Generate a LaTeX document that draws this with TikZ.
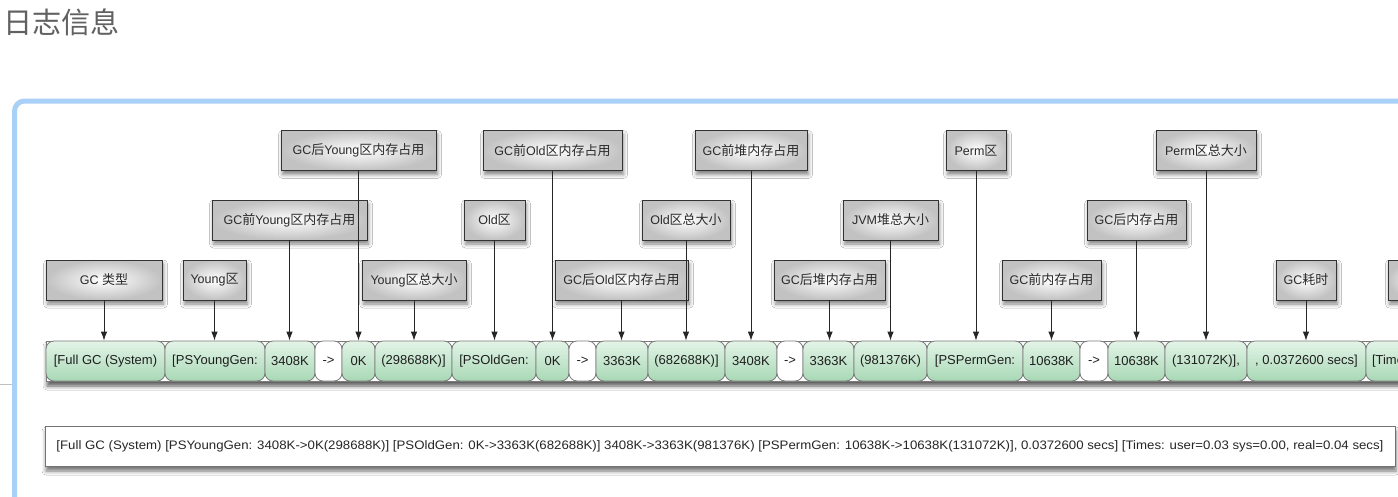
\documentclass[tikz,border=0pt]{standalone}
\usepackage{fontspec}
\setmainfont{Liberation Sans}
\newfontfamily\cjk[Scale=1.04]{Noto Sans CJK SC}
\usetikzlibrary{shadows.blur,arrows.meta}
\newcommand{\zh}[1]{{\cjk #1}}

\definecolor{frameblue}{HTML}{A9D1F7}
\definecolor{segtop}{HTML}{E3F4E7}
\definecolor{segbot}{HTML}{A8D8B5}
\definecolor{segline}{HTML}{7A7A7A}
\definecolor{labtext}{HTML}{2A2A2A}

\tikzset{
  tagbox/.style={draw=black!80, line width=0.9pt, inner sep=0pt, minimum height=40pt,
    shading=radial, inner color=white, outer color=black!24, text=labtext,
    font=\fontsize{12.5}{14}\selectfont,
    blur shadow={shadow xshift=1.5pt, shadow yshift=-4pt, shadow blur radius=4pt, shadow opacity=50}},
  segbase/.style={draw=segline, line width=0.8pt, rounded corners=8pt, inner sep=0pt,
    minimum height=40pt, text=black!88, font=\fontsize{13}{15}\selectfont},
  seg/.style={segbase, top color=segtop, bottom color=segbot},
  arrowseg/.style={segbase, fill=white},
  pointer/.style={draw=black!85, line width=0.9pt, -{Latex[length=9pt,width=6.5pt]}},
}

\begin{document}
\begin{tikzpicture}[x=1pt, y=-1pt]
\useasboundingbox (0,0) rectangle (1398,496);
\fill[white] (0,0) rectangle (1398,496);
\begin{scope}
\clip (0,0) rectangle (1398,496);

% heading
\node[anchor=west, inner sep=0pt, text=black!62, font=\cjk\fontsize{28}{30}\selectfont] (title) at (3,22) {日志信息};

% page rule and panel frame
\draw[black!25, line width=0.8pt] (0,384) -- (12,384);
\draw[frameblue, line width=5pt, rounded corners=10pt] (14.5,520) -- (14.5,101) -- (1500,101);

% label boxes, top row
\node[tagbox, minimum width=155pt] (postyoung) at (358.5,150.5) {GC\zh{后}Young\zh{区内存占用}};
\node[tagbox, minimum width=139pt] (preold)    at (552.5,150.5) {GC\zh{前}Old\zh{区内存占用}};
\node[tagbox, minimum width=112pt] (preheap)   at (751,150.5)   {GC\zh{前堆内存占用}};
\node[tagbox, minimum width=60pt]  (perm)      at (976,150.5)   {Perm\zh{区}};
\node[tagbox, minimum width=100pt] (permtot)   at (1206,150.5)  {Perm\zh{区总大小}};

% label boxes, middle row
\node[tagbox, minimum width=155pt] (preyoung)  at (289.5,220)   {GC\zh{前}Young\zh{区内存占用}};
\node[tagbox, minimum width=61pt]  (old)       at (494.5,220)   {Old\zh{区}};
\node[tagbox, minimum width=88pt]  (oldtot)    at (686,220)     {Old\zh{区总大小}};
\node[tagbox, minimum width=95pt]  (heaptot)   at (890.5,220)   {JVM\zh{堆总大小}};
\node[tagbox, minimum width=99pt]  (postmem)   at (1136.5,220)  {GC\zh{后内存占用}};

% label boxes, bottom row
\node[tagbox, minimum width=116pt] (gctype)    at (104,280)     {GC \zh{类型}};
\node[tagbox, minimum width=63pt]  (young)     at (214.5,280)   {Young\zh{区}};
\node[tagbox, minimum width=104pt] (youngtot)  at (414,280)     {Young\zh{区总大小}};
\node[tagbox, minimum width=133pt] (postold)   at (621.5,280)   {GC\zh{后}Old\zh{区内存占用}};
\node[tagbox, minimum width=111pt] (postheap)  at (829.5,280)   {GC\zh{后堆内存占用}};
\node[tagbox, minimum width=99pt]  (premem)    at (1051.5,280)  {GC\zh{前内存占用}};
\node[tagbox, minimum width=60pt]  (gctime)    at (1306,280)    {GC\zh{耗时}};
\node[tagbox, minimum width=62pt]  (nexttag)   at (1419,280)    {};

% log line split into fields
\node[draw=segline, line width=0.8pt, fill=white, minimum width=1420pt, minimum height=40pt, inner sep=0pt,
  blur shadow={shadow xshift=1pt, shadow yshift=-5pt, shadow blur radius=4pt, shadow opacity=65}] (row) at (756,361) {};
\node[seg, minimum width=119pt] (s1)  at (105.5,361)  {[Full GC (System)};
\node[seg, minimum width=100pt] (s2)  at (215,361)    {[PSYoungGen:};
\node[seg, minimum width=50pt]  (s3)  at (290,361)    {3408K};
\node[arrowseg, minimum width=27pt] (s4) at (328.5,361) {->};
\node[seg, minimum width=33pt]  (s5)  at (358.5,361)  {0K};
\node[seg, minimum width=77pt]  (s6)  at (413.5,361)  {(298688K)]};
\node[seg, minimum width=84pt]  (s7)  at (494,361)    {[PSOldGen:};
\node[seg, minimum width=33pt]  (s8)  at (552.5,361)  {0K};
\node[arrowseg, minimum width=27pt] (s9) at (582.5,361) {->};
\node[seg, minimum width=52pt]  (s10) at (622,361)    {3363K};
\node[seg, minimum width=77pt]  (s11) at (686.5,361)  {(682688K)]};
\node[seg, minimum width=52pt]  (s12) at (751,361)    {3408K};
\node[arrowseg, minimum width=26pt] (s13) at (790,361) {->};
\node[seg, minimum width=51pt]  (s14) at (828.5,361)  {3363K};
\node[seg, minimum width=73pt]  (s15) at (890.5,361)  {(981376K)};
\node[seg, minimum width=96pt]  (s16) at (975,361)    {[PSPermGen:};
\node[seg, minimum width=57pt]  (s17) at (1051.5,361) {10638K};
\node[arrowseg, minimum width=28pt] (s18) at (1094,361) {->};
\node[seg, minimum width=57pt]  (s19) at (1136.5,361) {10638K};
\node[seg, minimum width=82pt]  (s20) at (1206,361)   {(131072K)],};
\node[seg, minimum width=119pt] (s21) at (1306.5,361) {, 0.0372600 secs]};
\node[seg, text width=288pt, align=left, inner xsep=6pt] (s22) at (1516,361) {[Times: user=0.03 sys=0.00, real=0.04 secs]};

% pointers from labels to fields
\foreach \tag/\field in {gctype/s1, young/s2, preyoung/s3, postyoung/s5, youngtot/s6,
    old/s7, preold/s8, postold/s10, oldtot/s11, preheap/s12, postheap/s14, heaptot/s15,
    perm/s16, premem/s17, postmem/s19, permtot/s20, gctime/s21}
  \draw[pointer] (\tag.south) -- (\tag.south |- \field.north);

% the whole log line
\node[draw=black!55, line width=0.8pt, fill=white, minimum width=1350pt, minimum height=40pt, inner sep=0pt,
  blur shadow={shadow xshift=1pt, shadow yshift=-5pt, shadow blur radius=4pt, shadow opacity=55},
  font=\fontsize{12.3}{14}\selectfont, text=black!85] (full) at (720,446)
  {\resizebox{1327pt}{\height}{[Full GC (System) [PSYoungGen: 3408K->0K(298688K)] [PSOldGen: 0K->3363K(682688K)] 3408K->3363K(981376K) [PSPermGen: 10638K->10638K(131072K)], 0.0372600 secs] [Times: user=0.03 sys=0.00, real=0.04 secs]}};
\end{scope}
\end{tikzpicture}
\end{document}
